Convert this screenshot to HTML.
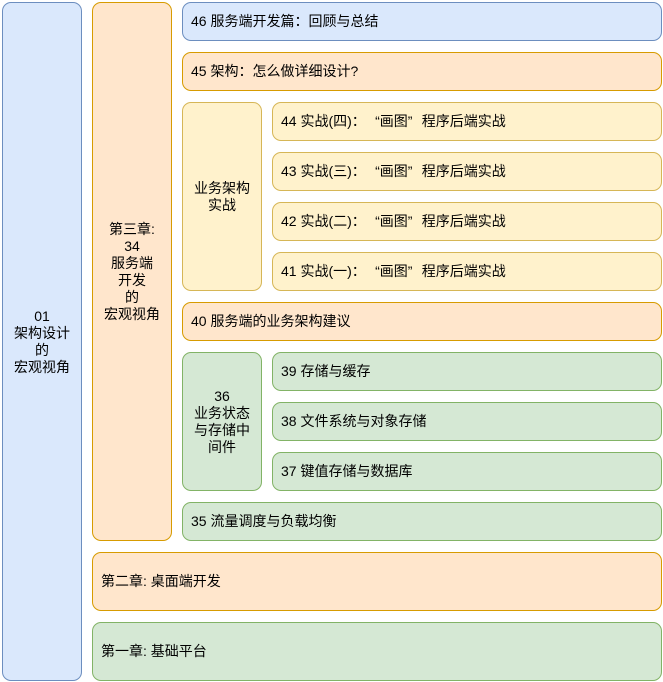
<!DOCTYPE html>
<html><head><meta charset="utf-8"><style>
body{margin:0;width:663px;height:682px;background:#fff;position:relative;overflow:hidden;font-family:"Liberation Sans","Noto Sans CJK SC",sans-serif;font-size:14px;color:#000}
.b{position:absolute;box-sizing:border-box;border-width:1.5px;border-style:solid;border-radius:9px;display:flex;align-items:center;padding-left:8px;line-height:17px;white-space:pre}
.c{justify-content:center;text-align:center;padding:0}
.bl{background:#dae8fc;border-color:#6c8ebf}
.or{background:#ffe6cc;border-color:#d79b00}
.ye{background:#fff2cc;border-color:#d6b656}
.gr{background:#d5e8d4;border-color:#82b366}
i{font-style:normal;display:inline-block;width:14px}
i.l{text-align:right}
</style></head><body>
<div class="b bl c" style="left:2px;top:2px;width:80px;height:679px">01<br>架构设计<br>的<br>宏观视角</div>
<div class="b or c" style="left:92px;top:2px;width:80px;height:539px">第三章:<br>34<br>服务端<br>开发<br>的<br>宏观视角</div>
<div class="b bl" style="left:182px;top:2px;width:480px;height:39px">46 服务端开发篇<i>：</i>回顾与总结</div>
<div class="b or" style="left:182px;top:52px;width:480px;height:39px">45 架构<i>：</i>怎么做详细设计?</div>
<div class="b ye c" style="left:182px;top:102px;width:80px;height:189px">业务架构<br>实战</div>
<div class="b ye" style="left:272px;top:102px;width:390px;height:39px">44 实战(四)<i>：</i><i class="l">“</i>画图<i>”</i>程序后端实战</div>
<div class="b ye" style="left:272px;top:152px;width:390px;height:39px">43 实战(三)<i>：</i><i class="l">“</i>画图<i>”</i>程序后端实战</div>
<div class="b ye" style="left:272px;top:202px;width:390px;height:39px">42 实战(二)<i>：</i><i class="l">“</i>画图<i>”</i>程序后端实战</div>
<div class="b ye" style="left:272px;top:252px;width:390px;height:39px">41 实战(一)<i>：</i><i class="l">“</i>画图<i>”</i>程序后端实战</div>
<div class="b or" style="left:182px;top:302px;width:480px;height:39px">40 服务端的业务架构建议</div>
<div class="b gr c" style="left:182px;top:352px;width:80px;height:139px">36<br>业务状态<br>与存储中<br>间件</div>
<div class="b gr" style="left:272px;top:352px;width:390px;height:39px">39 存储与缓存</div>
<div class="b gr" style="left:272px;top:402px;width:390px;height:39px">38 文件系统与对象存储</div>
<div class="b gr" style="left:272px;top:452px;width:390px;height:39px">37 键值存储与数据库</div>
<div class="b gr" style="left:182px;top:502px;width:480px;height:39px">35 流量调度与负载均衡</div>
<div class="b or" style="left:92px;top:552px;width:570px;height:59px">第二章: 桌面端开发</div>
<div class="b gr" style="left:92px;top:622px;width:570px;height:59px">第一章: 基础平台</div>
</body></html>
